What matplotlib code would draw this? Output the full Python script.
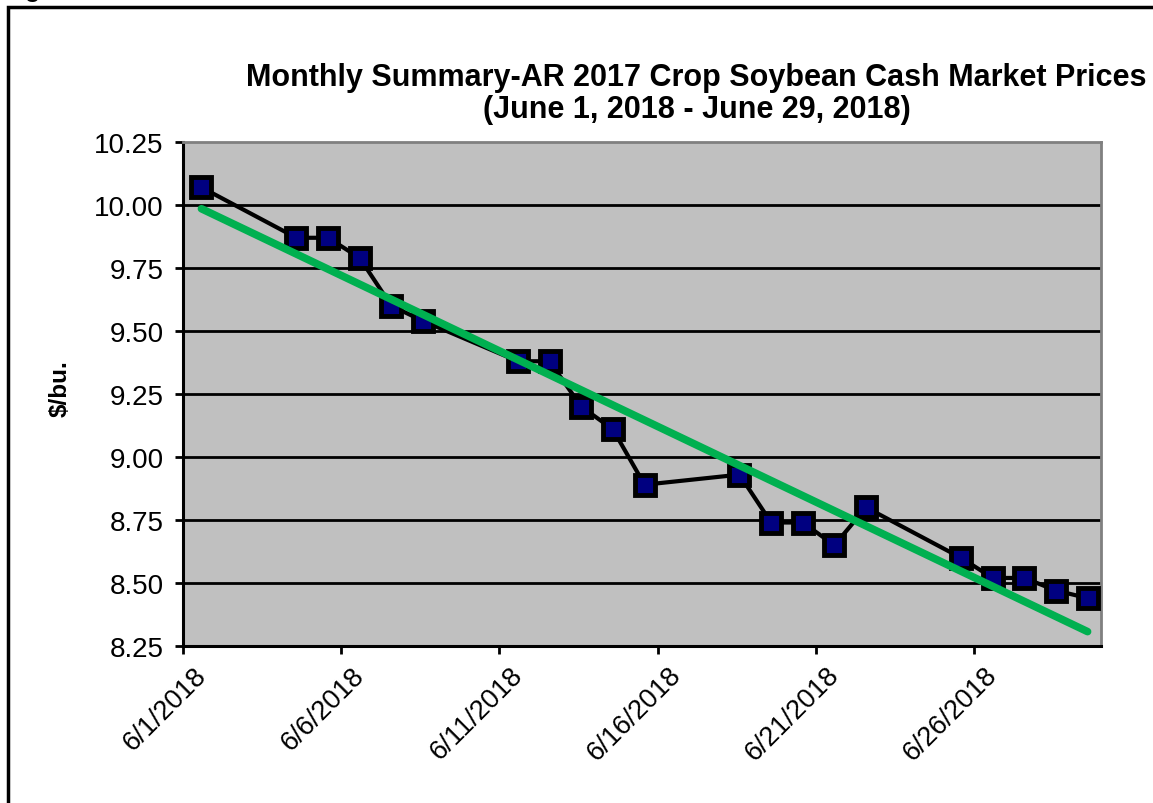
import matplotlib.pyplot as plt
import matplotlib.dates as mdates
import matplotlib.patches as patches
import matplotlib.transforms as mtrans
import numpy as np
import pandas as pd

plt.rcParams['font.family'] = ['Liberation Sans', 'DejaVu Sans']

# trading days in June 2018 and AR cash prices ($/bu.)
dates = ['2018-06-01', '2018-06-04', '2018-06-05', '2018-06-06', '2018-06-07', '2018-06-08',
         '2018-06-11', '2018-06-12', '2018-06-13', '2018-06-14', '2018-06-15',
         '2018-06-18', '2018-06-19', '2018-06-20', '2018-06-21', '2018-06-22',
         '2018-06-25', '2018-06-26', '2018-06-27', '2018-06-28', '2018-06-29']
prices = [10.07, 9.87, 9.87, 9.79, 9.60, 9.54,
          9.38, 9.38, 9.20, 9.11, 8.89,
          8.93, 8.74, 8.74, 8.65, 8.80,
          8.60, 8.52, 8.52, 8.47, 8.44]
yticks = [8.25, 8.50, 8.75, 9.00, 9.25, 9.50, 9.75, 10.00, 10.25]
xtick_dates = ['2018-06-01', '2018-06-06', '2018-06-11', '2018-06-16', '2018-06-21', '2018-06-26']

# points sit in the middle of each day slot, like excel's date axis
x = pd.to_datetime(dates) + pd.Timedelta(hours=14)
xn = mdates.date2num(x)

# linear trend line over the series
k, b = np.polyfit(xn, prices, 1)
trend = k * xn + b

fig = plt.figure(figsize=(11.53, 8.04), dpi=100)
ax = fig.add_axes([0.1587, 0.1953, 0.7960, 0.6268])
ax.set_facecolor('#c0c0c0')

for yv in yticks[1:-1]:
    ax.axhline(yv, color='black', lw=2, zorder=1)

ax.plot(x, prices, color='black', lw=3, marker='s', markersize=14.5,
        markerfacecolor='#000080', markeredgecolor='black', markeredgewidth=3.5, zorder=3)
ax.plot(x, trend, color='#00b050', lw=5.5, solid_capstyle='round', zorder=4)

ax.set_ylim(8.25, 10.25)
ax.set_yticks(yticks)
ax.set_yticklabels(['%.2f' % v for v in yticks])
ax.set_xlim(pd.Timestamp('2018-06-01'), pd.Timestamp('2018-06-30'))
ax.set_xticks(pd.to_datetime(xtick_dates))
ax.set_xticklabels([d.strftime('%-m/%-d/%Y') for d in pd.to_datetime(xtick_dates)],
                   rotation=45, ha='right', va='center', rotation_mode='anchor')

ax.tick_params(axis='both', direction='out', length=6, width=2, color='black')
ax.tick_params(axis='x', pad=4, labelsize=19.5)
ax.tick_params(axis='y', pad=8, labelsize=20)

# nudge the slanted date labels so their ends sit just right of the ticks
shift = mtrans.ScaledTranslation(0.19, -0.11, fig.dpi_scale_trans)
for lbl in ax.get_xticklabels():
    lbl.set_transform(lbl.get_transform() + shift)

for s in ['left', 'bottom']:
    ax.spines[s].set_color('black')
    ax.spines[s].set_linewidth(2.2)
for s in ['top', 'right']:
    ax.spines[s].set_color('#808080')
    ax.spines[s].set_linewidth(2)

ax.set_ylabel('$/bu.', fontsize=17.5, fontweight='bold')
ax.yaxis.set_label_coords(-0.121, 0.512)

fig.text(0.604, 0.883, 'Monthly Summary-AR 2017 Crop Soybean Cash Market Prices\n(June 1, 2018 - June 29, 2018)',
         ha='center', va='center', fontsize=22, fontweight='bold', linespacing=1.12)

# outer frame around the figure and clipped caption above it
fig.patches.append(patches.Rectangle((0.0072, -0.1), 1.1, 1.0 - 0.0104 + 0.1, transform=fig.transFigure,
                                     fill=False, edgecolor='black', lw=2.5))
fig.text(0.003, 1.012, 'Figure 5', fontsize=18, fontweight='bold', va='center', ha='left')

fig.savefig('out.png', dpi=100)
